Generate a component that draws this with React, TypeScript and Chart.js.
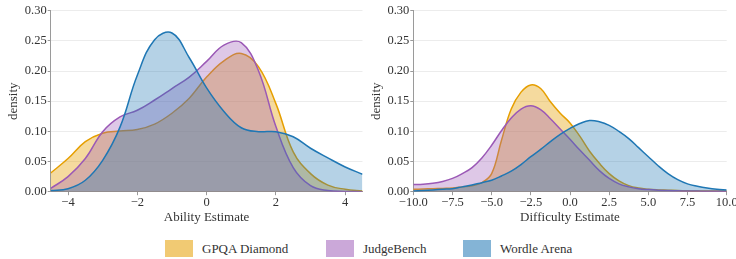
import { useEffect, useRef } from "react";
import { Chart, registerables } from "chart.js";

Chart.register(...registerables);

const seriesNames = ["GPQA Diamond", "JudgeBench", "Wordle Arena"];
const lineColors = ["#E69F00", "#9B59B6", "#1F77B4"];
const fillColors = ["rgba(230,159,0,0.38)", "rgba(155,89,182,0.33)", "rgba(31,119,180,0.33)"];
const legendColors = ["rgba(230,159,0,0.55)", "rgba(155,89,182,0.52)", "rgba(31,119,180,0.55)"];

// Ability panel
const abilityX = [-4.5, -4, -3.5, -3, -2.5, -2, -1.5, -1, -0.5, 0, 0.5, 1, 1.5, 2, 2.5, 3, 3.5, 4, 4.5];
const abilityGPQA = [0.031, 0.055, 0.083, 0.097, 0.1005, 0.103, 0.112, 0.130, 0.155, 0.19, 0.217, 0.229, 0.207, 0.146, 0.066, 0.030, 0.011, 0.004, 0.001];
const abilityJudge = [0.0055, 0.025, 0.055, 0.0995, 0.124, 0.135, 0.152, 0.171, 0.19, 0.216, 0.243, 0.247, 0.200, 0.108, 0.040, 0.010, 0.002, 0.0005, 0.0];
const abilityWordle = [0.002, 0.005, 0.019, 0.052, 0.107, 0.193, 0.252, 0.263, 0.222, 0.172, 0.133, 0.106, 0.0995, 0.0995, 0.091, 0.072, 0.056, 0.041, 0.029];
const abilityTicks = [-4, -2, 0, 2, 4];

// Difficulty panel
const diffX = [
  -10, -9.375, -8.75, -8.125, -7.5, -6.875, -6.25, -5.625, -5, -4.375, -3.75, -3.125, -2.5, -1.875, -1.25, -0.625,
  0, 0.625, 1.25, 1.875, 2.5, 3.125, 3.75, 4.375, 5, 5.625, 6.25, 6.875, 7.5, 8.125, 8.75, 9.375, 10,
];
const diffGPQA = [
  0.004, 0.0045, 0.005, 0.0055, 0.006, 0.008, 0.010, 0.015, 0.030, 0.085, 0.137, 0.165, 0.177, 0.171, 0.149, 0.130,
  0.114, 0.092, 0.067, 0.047, 0.030, 0.018, 0.010, 0.006, 0.004, 0.003, 0.0025, 0.002, 0.0015, 0.001, 0.001, 0.001, 0.001,
];
const diffJudge = [
  0.012, 0.0125, 0.014, 0.017, 0.022, 0.030, 0.040, 0.056, 0.077, 0.101, 0.122, 0.137, 0.1425, 0.136, 0.121, 0.104,
  0.087, 0.069, 0.052, 0.035, 0.022, 0.013, 0.008, 0.005, 0.0035, 0.0025, 0.002, 0.0015, 0.0012, 0.001, 0.0008, 0.0006, 0.0005,
];
const diffWordle = [
  0.001, 0.002, 0.003, 0.004, 0.005, 0.008, 0.011, 0.015, 0.019, 0.026, 0.034, 0.045, 0.058, 0.070, 0.083, 0.095,
  0.105, 0.113, 0.118, 0.116, 0.110, 0.100, 0.088, 0.073, 0.058, 0.043, 0.030, 0.020, 0.013, 0.009, 0.006, 0.004, 0.003,
];
const diffTicks = [-10, -7.5, -5, -2.5, 0, 2.5, 5, 7.5, 10];

const yTicks = [0, 0.05, 0.1, 0.15, 0.2, 0.25, 0.3];

const FONT = "'Liberation Serif', 'Times New Roman', serif";
const TEXT = "#333333";
const AXIS = "#9a9a9a";

const fmtMinus = (s: string) => s.replace("-", "\u2212");

function buildConfig(
  xs: number[],
  series: number[][],
  xTicks: number[],
  decimals: number,
  xTitle: string,
  yAxisWidth: number,
  yTitlePad: number,
  padRight: number
): any {
  const datasets = series.map((vals, i) => ({
    label: seriesNames[i],
    data: xs.map((x, j) => ({ x, y: vals[j] })),
    borderColor: lineColors[i],
    backgroundColor: fillColors[i],
    borderWidth: 1.5,
    pointRadius: 0,
    fill: "origin",
    tension: 0.4,
    order: 3 - i,
  }));
  return {
    type: "line",
    data: { datasets },
    options: {
      responsive: false,
      animation: false,
      layout: { padding: { top: 10.7, right: padRight, bottom: 0, left: 0 } },
      plugins: { legend: { display: false }, tooltip: { enabled: false } },
      scales: {
        x: {
          type: "linear",
          min: xs[0],
          max: xs[xs.length - 1],
          afterBuildTicks: (scale: any) => {
            scale.ticks = xTicks.map((v) => ({ value: v }));
          },
          afterFit: (scale: any) => {
            scale.height = 44.3;
          },
          border: { color: AXIS, width: 1 },
          grid: { drawOnChartArea: false, drawTicks: true, tickLength: 3.5, tickColor: AXIS },
          ticks: {
            autoSkip: false,
            maxRotation: 0,
            padding: 0,
            color: TEXT,
            font: { family: FONT, size: 12.5 },
            callback: (v: number) => fmtMinus(v.toFixed(decimals)),
          },
          title: {
            display: true,
            text: xTitle,
            color: TEXT,
            font: { family: FONT, size: 13 },
            padding: { top: 0, bottom: 11 },
          },
        },
        y: {
          type: "linear",
          min: 0,
          max: 0.3,
          afterBuildTicks: (scale: any) => {
            scale.ticks = yTicks.map((v) => ({ value: v }));
          },
          afterFit: (scale: any) => {
            scale.width = yAxisWidth;
          },
          border: { color: AXIS, width: 1 },
          grid: { color: "#ececec", lineWidth: 1, tickLength: 3, tickColor: AXIS },
          ticks: {
            padding: 1,
            color: TEXT,
            font: { family: FONT, size: 12.5 },
            callback: (v: number) => v.toFixed(2),
          },
          title: {
            display: true,
            text: "density",
            color: TEXT,
            font: { family: FONT, size: 13, lineHeight: 1 },
            padding: { top: yTitlePad, bottom: 0 },
          },
        },
      },
    },
  };
}

function Panel(props: { left: number; width: number; config: any }) {
  const ref = useRef<HTMLCanvasElement | null>(null);
  useEffect(() => {
    if (!ref.current) return;
    const chart = new Chart(ref.current, props.config);
    return () => chart.destroy();
  }, []);
  return (
    <canvas
      ref={ref}
      width={props.width}
      height={236}
      style={{ position: "absolute", left: props.left, top: 0, width: props.width, height: 236, display: "block" }}
    />
  );
}

export default function App() {
  const leftCfg = buildConfig(
    abilityX,
    [abilityGPQA, abilityJudge, abilityWordle],
    abilityTicks,
    0,
    "Ability Estimate",
    50.7,
    7.5,
    7.5
  );
  const rightCfg = buildConfig(
    diffX,
    [diffGPQA, diffJudge, diffWordle],
    diffTicks,
    1,
    "Difficulty Estimate",
    43.3,
    0,
    23.3
  );
  const legendLefts = [165, 326, 463];
  return (
    <div style={{ position: "fixed", left: 0, top: 0, width: 736, height: 259, overflow: "hidden", background: "#fff" }}>
      <Panel left={0} width={370} config={leftCfg} />
      <Panel left={370} width={380} config={rightCfg} />
      {seriesNames.map((name, i) => (
        <div
          key={name}
          style={{
            position: "absolute",
            left: legendLefts[i],
            top: 240,
            height: 17,
            display: "flex",
            alignItems: "center",
            fontFamily: FONT,
            fontSize: 13,
            color: TEXT,
            whiteSpace: "nowrap",
          }}
        >
          <span style={{ display: "inline-block", width: 28, height: 17, background: legendColors[i], marginRight: 9 }} />
          <span>{name}</span>
        </div>
      ))}
    </div>
  );
}
